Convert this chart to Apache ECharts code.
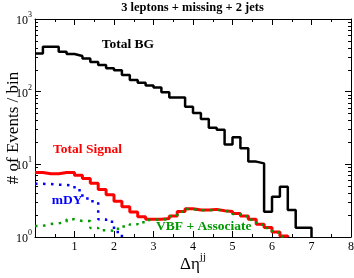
<!DOCTYPE html>
<html>
<head>
<meta charset="utf-8">
<script src="https://cdn.jsdelivr.net/npm/echarts@6/dist/echarts.min.js"></script>
<style>html,body{margin:0;padding:0;background:#fff}#c{width:354px;height:278px}</style>
</head>
<body>
<div id="c"></div>
<script>
// Bin left edges (width 0.2)
var binStarts = [0.0,0.2,0.4,0.6,0.8,1.0,1.2,1.4,1.6,1.8,2.0,2.2,2.4,2.6,2.8,3.0,3.2,3.4,3.6,3.8,
                 4.0,4.2,4.4,4.6,4.8,5.0,5.2,5.4,5.6,5.8,6.0,6.2,6.4,6.6,6.8];
// Total BG
var totalBG = [336,415,415,354,330,310,287,256,232,210,197,169,145,133,122,114,98,83,83,62,
               51,42,32,30,18.8,23.5,16.6,10.9,10.3,2.23,3.58,4.93,2.35,1.34,1.34];
var totalBGEnd = 7.0;
// Total Signal
var totalSignal = [7.7,7.4,7.4,7.7,7.7,7.1,6.4,5.5,4.5,3.8,3.1,2.6,2.2,1.9,1.75,1.75,1.8,1.95,2.25,2.45,
                   2.35,2.35,2.4,2.3,2.25,2.1,1.95,1.75,1.5,1.35,1.17,1.03];
var totalSignalEnd = 6.4;
// VBF + Associate
var vbfAssoc = [1.42,1.51,1.54,1.62,1.75,1.66,1.66,1.33,1.24,1.22,1.3,1.4,1.5,1.6,1.72,1.73,1.78,1.93,2.22,2.42,
                2.33,2.33,2.38,2.28,2.22,2.08,1.93,1.73,1.48,1.33,1.15,1.02];
var vbfAssocEnd = 6.4;
// mDY
var mDY = [5.4,5.35,5.25,5.2,5.1,4.4,3.4,3.1,1.75,1.62,1.17];
var mDYEnd = 2.2;

var xTicks = [1,2,3,4,5,6,7,8];
var yMinorTicks = [2,3,4,5,6,7,8,9,20,30,40,50,60,70,80,90,200,300,400,500,600,700,800,900];

function stepData(vals, end) {
  var d = [];
  for (var i = 0; i < vals.length; i++) d.push([binStarts[i], vals[i]]);
  d.push([end, vals[vals.length - 1]]);
  d.push([end, 1]);
  return d;
}

var SERIF = '"Liberation Serif", "DejaVu Serif", serif';
var chart = echarts.init(document.getElementById('c'), null, {renderer: 'canvas'});

function yAxisCfg(pos, minor, labels) {
  return {
    type: 'log', logBase: 10, min: 1, max: 1000, position: pos,
    axisLine: {show: !minor, lineStyle: {color: '#000', width: 1}},
    axisTick: minor ? {show: true, inside: true, length: 3, customValues: yMinorTicks, lineStyle: {color: '#000'}}
                    : {show: true, inside: true, length: 6, lineStyle: {color: '#000'}},
    axisLabel: labels ? {
      show: true, margin: 3,
      formatter: function (v) { return '{a|10}{b|' + Math.round(Math.log(v) / Math.LN10) + '}'; },
      rich: {
        a: {fontSize: 12, fontFamily: SERIF, color: '#000', verticalAlign: 'bottom'},
        b: {fontSize: 8, fontFamily: SERIF, color: '#000', verticalAlign: 'top', padding: [0, 0, 8, 0]}
      }
    } : {show: false},
    splitLine: {show: false},
    name: labels ? '# of Events / bin' : '',
    nameLocation: 'middle', nameGap: 13, nameMoveOverlap: false,
    nameTextStyle: {fontSize: 17, fontFamily: SERIF, color: '#000'}
  };
}

function xAxisCfg(pos, labels) {
  return {
    type: 'value', min: 0, max: 8, interval: 1, position: pos,
    axisLine: {show: true, lineStyle: {color: '#000', width: 1}},
    axisTick: {show: true, inside: true, length: 6, lineStyle: {color: '#000'}},
    minorTick: {show: true, splitNumber: 2, length: 3, lineStyle: {color: '#000'}},
    axisLabel: labels ? {show: true, margin: 4, showMinLabel: false, fontSize: 12, fontFamily: SERIF, color: '#000',
      formatter: function (v) { return xTicks.indexOf(v) >= 0 ? String(v) : ''; }} : {show: false},
    splitLine: {show: false},
    name: labels ? '{d|Δη}{j|jj}' : '',
    nameLocation: 'middle', nameGap: 15, nameMoveOverlap: false,
    nameTextStyle: {
      rich: {
        d: {fontSize: 17, fontFamily: SERIF, color: '#000', verticalAlign: 'bottom'},
        j: {fontSize: 11, fontFamily: SERIF, color: '#000', verticalAlign: 'top', padding: [0, 0, 10, 0]}
      }
    }
  };
}

var option = {
  animation: false,
  backgroundColor: '#fff',
  grid: {left: 35, right: 3, top: 19, bottom: 41, containLabel: false, outerBoundsMode: 'none'},
  xAxis: [xAxisCfg('bottom', true), xAxisCfg('top', false)],
  yAxis: [yAxisCfg('left', false, true), yAxisCfg('left', true, false), yAxisCfg('right', false, false), yAxisCfg('right', true, false)],
  series: [
    {type: 'line', name: 'Total BG', step: 'end', data: stepData(totalBG, totalBGEnd), symbol: 'none',
     lineStyle: {color: '#000', width: 2.5}, z: 5},
    {type: 'line', name: 'Total Signal', step: 'end', data: stepData(totalSignal, totalSignalEnd), symbol: 'none',
     lineStyle: {color: '#ff0000', width: 3}, z: 3},
    {type: 'line', name: 'VBF + Associate', step: 'end', data: stepData(vbfAssoc, vbfAssocEnd), symbol: 'none',
     lineStyle: {color: '#009900', width: 2.5, type: [2.5, 5.5]}, z: 4},
    {type: 'line', name: 'mDY', step: 'end', data: stepData(mDY, mDYEnd), symbol: 'none',
     lineStyle: {color: '#0000ff', width: 2.5, type: [2.5, 5.5]}, z: 4}
  ],
  graphic: [
    {type: 'text', x: 192.5, y: 8, style: {text: '3 leptons + missing + 2 jets', fill: '#000', font: 'bold 12.5px ' + SERIF, align: 'center', verticalAlign: 'middle'}},
    {type: 'text', x: 101.7, y: 45, style: {text: 'Total BG', fill: '#000', font: 'bold 13.5px ' + SERIF, align: 'left', verticalAlign: 'middle'}},
    {type: 'text', x: 53, y: 150, style: {text: 'Total Signal', fill: '#ff0000', font: 'bold 13.5px ' + SERIF, align: 'left', verticalAlign: 'middle'}},
    {type: 'text', x: 51.7, y: 201, style: {text: 'mDY', fill: '#0000ff', font: 'bold 13.5px ' + SERIF, align: 'left', verticalAlign: 'middle'}},
    {type: 'text', x: 156, y: 226.7, style: {text: 'VBF + Associate', fill: '#009900', font: 'bold 13.5px ' + SERIF, align: 'left', verticalAlign: 'middle'}}
  ]
};
chart.setOption(option);
</script>
</body>
</html>
